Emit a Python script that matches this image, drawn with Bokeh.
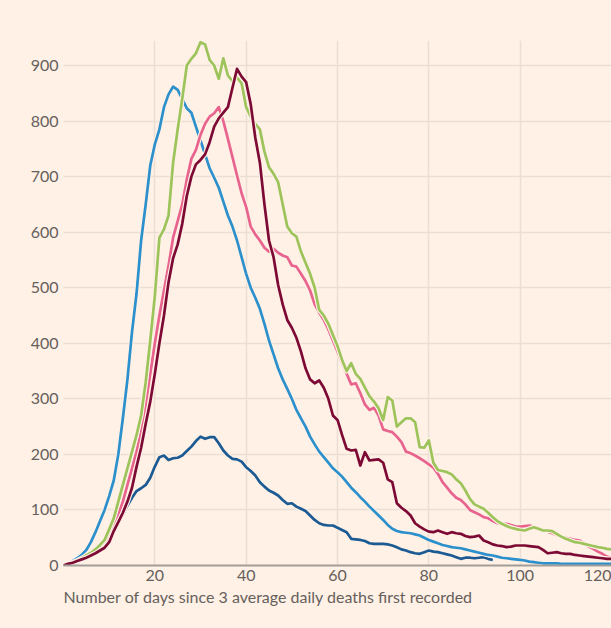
from bokeh.plotting import figure
from bokeh.models import FixedTicker, Range1d, Title, ColumnDataSource
from bokeh.embed import file_html
from bokeh.resources import INLINE

# ---------------- data ----------------
days = list(range(0, 121))
days_dark = list(range(0, 95))

light_blue = [0, 3, 8, 13, 19, 28, 42, 60, 80, 100,
              125, 153, 200, 265, 335, 420, 490, 585, 650, 720,
              758, 785, 825, 848, 862, 856, 840, 823, 815, 790,
              765, 740, 715, 698, 680, 655, 630, 610, 585, 555,
              525, 500, 482, 462, 435, 405, 380, 355, 335, 318,
              300, 280, 265, 250, 232, 218, 205, 195, 185, 175,
              168, 160, 150, 140, 132, 123, 115, 106, 98, 90,
              82, 73, 66, 62, 60, 59, 58, 56, 54, 50,
              46, 43, 40, 37, 35, 33, 32, 31, 29, 27,
              25, 23, 21, 19, 18, 16, 14, 13, 12, 11,
              10, 9, 7, 6, 5, 4, 4, 4, 4, 3,
              3, 3, 3, 3, 3, 3, 3, 3, 3, 3, 3]

green = [0, 2, 5, 9, 13, 18, 23, 29, 37, 46,
         65, 85, 115, 145, 175, 205, 235, 270, 330, 405,
         485, 590, 605, 630, 725, 785, 840, 900, 912, 922,
         942, 938, 910, 900, 876, 913, 882, 872, 878, 868,
         825, 808, 795, 785, 745, 717, 705, 690, 650, 610,
         598, 592, 565, 545, 525, 500, 460, 450, 435, 415,
         395, 370, 350, 364, 345, 336, 320, 305, 295, 283,
         262, 303, 297, 250, 258, 265, 265, 258, 213, 212,
         225, 185, 172, 170, 168, 164, 155, 148, 135, 120,
         110, 106, 102, 95, 87, 80, 75, 71, 68, 66,
         64, 63, 66, 69, 66, 63, 63, 62, 57, 52,
         48, 45, 42, 41, 39, 37, 35, 33, 32, 30, 29]

pink = [0, 2, 5, 8, 12, 16, 21, 27, 34, 42,
        50, 70, 92, 115, 145, 175, 205, 240, 290, 345,
        400, 450, 495, 540, 590, 620, 650, 695, 732, 748,
        775, 795, 808, 814, 825, 800, 768, 735, 702, 670,
        645, 610, 596, 585, 572, 565, 570, 563, 558, 555,
        540, 538, 525, 512, 495, 470, 455, 442, 425, 405,
        385, 365, 345, 326, 328, 310, 290, 280, 284, 270,
        245, 242, 240, 232, 222, 205, 202, 198, 193, 188,
        182, 176, 165, 150, 140, 130, 122, 118, 110, 100,
        96, 92, 87, 85, 80, 76, 75, 75, 73, 70,
        70, 71, 72, 70, 67, 64, 61, 58, 55, 52,
        50, 48, 46, 45, 40, 34, 30, 25, 21, 16, 14]

maroon = [0, 3, 5, 8, 11, 14, 18, 22, 27, 32,
          42, 62, 78, 95, 115, 140, 178, 212, 255, 295,
          345, 400, 450, 510, 553, 578, 615, 665, 700, 722,
          730, 740, 762, 790, 805, 815, 825, 860, 894, 880,
          870, 830, 770, 725, 650, 585, 555, 505, 470, 442,
          428, 410, 385, 355, 335, 328, 333, 320, 300, 270,
          262, 235, 210, 207, 208, 180, 204, 189, 190, 191,
          185, 155, 150, 112, 104, 98, 90, 76, 70, 65,
          61, 60, 63, 60, 57, 60, 58, 57, 53, 51,
          52, 54, 45, 42, 38, 36, 35, 33, 34, 36,
          36, 36, 35, 34, 33, 28, 22, 23, 24, 22,
          21, 21, 19, 18, 17, 16, 15, 14, 13, 12, 12]

dark_blue = [0, 3, 5, 8, 11, 14, 18, 22, 27, 32,
             42, 60, 76, 92, 108, 122, 134, 139, 145, 158,
             178, 195, 198, 190, 193, 194, 198, 206, 214, 224,
             232, 228, 231, 231, 220, 207, 198, 192, 191, 187,
             177, 170, 162, 150, 142, 135, 131, 126, 118, 111,
             112, 106, 102, 98, 90, 82, 76, 73, 72, 72,
             68, 64, 60, 48, 47, 46, 44, 40, 39, 39,
             39, 38, 36, 33, 29, 27, 24, 22, 21, 24,
             27, 25, 24, 22, 20, 18, 15, 12, 14, 14,
             13, 14, 15, 12, 10]

y_ticks = [0, 100, 200, 300, 400, 500, 600, 700, 800, 900]
x_ticks = [20, 40, 60, 80, 100, 120]
x_label = "Number of days since 3 average daily deaths first recorded"

# ---------------- styling ----------------
BG = "#FFF1E5"
GRID = "#EADFD4"
TEXT = "#66605C"
FONT = "Lato"

p = figure(frame_width=548, frame_height=525, output_backend="svg", toolbar_location=None,
           x_range=Range1d(0, 120), y_range=Range1d(0, 945),
           min_border_left=63, min_border_right=0, min_border_top=40,
           min_border_bottom=10)
p.background_fill_color = BG
p.border_fill_color = BG
p.outline_line_color = None

series = [
    (days_dark, dark_blue, "#1B5A93"),
    (days, light_blue, "#2B90CC"),
    (days, pink, "#E8648E"),
    (days, green, "#9DC35B"),
    (days, maroon, "#7D0A35"),
]
for xs, ys, col in series:
    src = ColumnDataSource(dict(x=xs, y=ys))
    p.line("x", "y", source=src, line_color=BG, line_width=5, line_join="round")
    p.line("x", "y", source=src, line_color=col, line_width=2.7, line_join="round")

# axes
p.xaxis.ticker = FixedTicker(ticks=x_ticks)
p.yaxis.ticker = FixedTicker(ticks=y_ticks)
for ax in (p.xaxis, p.yaxis):
    ax.major_tick_line_color = None
    ax.minor_tick_line_color = None
    ax.major_tick_out = 0
    ax.major_tick_in = 0
    ax.minor_tick_out = 0
    ax.minor_tick_in = 0
    ax.major_label_text_font = FONT
    ax.major_label_text_font_size = "16px"
    ax.major_label_text_color = TEXT
p.yaxis.axis_line_color = None
p.yaxis.major_label_standoff = 5
p.xaxis.axis_line_color = "#A39D98"
p.xaxis.axis_line_width = 2
p.xaxis.major_label_standoff = 4

p.xgrid.ticker = FixedTicker(ticks=x_ticks)
p.ygrid.ticker = FixedTicker(ticks=y_ticks)
p.xgrid.grid_line_color = GRID
p.ygrid.grid_line_color = GRID
p.xgrid.grid_line_width = 1.5
p.ygrid.grid_line_width = 1.5

t = Title(text=x_label, align="left", text_font=FONT, text_font_size="16px",
          text_font_style="normal", text_color=TEXT, standoff=2, offset=0)
p.add_layout(t, "below")

html = file_html(p, INLINE)
head, sep, tail = html.rpartition("</head>")
style = "<style>html, body { margin: 0 !important; padding: 0 !important; background: #FFF1E5 !important; overflow: hidden; }</style>"
html = head + style + sep + tail
open("out.html", "w").write(html)
